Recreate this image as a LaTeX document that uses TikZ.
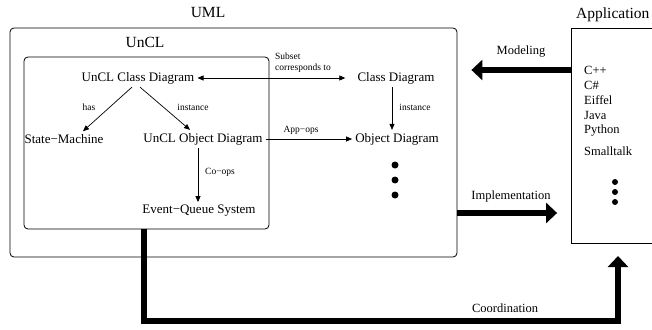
\documentclass[tikz,border=0pt]{standalone}
\usepackage{fontspec}
\setmainfont{Liberation Serif}
\usetikzlibrary{arrows.meta}
\begin{document}
\begin{tikzpicture}[x=1pt,y=-1pt,
  main/.style={font=\fontsize{13}{15}\selectfont, inner sep=3pt},
  lbl/.style={font=\fontsize{9.5}{11}\selectfont, inner sep=0pt},
  big/.style={font=\fontsize{15.5}{18}\selectfont, inner sep=0pt},
  side/.style={font=\fontsize{12.5}{15}\selectfont, inner sep=0pt},
  frame/.style={draw, line width=0.8pt, rounded corners=4pt, inner sep=0pt},
  thinarrow/.style={line width=0.7pt, -{Triangle[length=6pt,width=5pt]}},
  thinboth/.style={line width=0.7pt, {Triangle[length=6pt,width=5pt]}-{Triangle[length=6pt,width=5pt]}},
  fat/.style={line width=6pt, -{Triangle[length=11pt,width=20pt]}},
  dot/.style={circle, fill, inner sep=0pt, minimum size=7pt},
  sdot/.style={circle, fill, inner sep=0pt, minimum size=6pt}]
\useasboundingbox (0,0) rectangle (652,329);

% frames
\node[frame, minimum width=447pt, minimum height=229pt] (uml) at (233.5,142.5) {};
\node[frame, minimum width=245pt, minimum height=172pt] (uncl) at (146.5,143) {};
\node[draw, line width=0.8pt, minimum width=100pt, minimum height=215pt, inner sep=0pt] (app) at (621.5,135.5) {};

% frame titles
\node[big] (umlt) at (208,13) {UML};
\node[big] (unclt) at (145,42) {UnCL};
\node[big, anchor=west] (appt) at (576,15) {Application};

% diagram nodes
\node[main] (ucd) at (138,78) {UnCL Class Diagram};
\node[main] (cd) at (396,78) {Class Diagram};
\node[main] (sm) at (64,139) {State−Machine};
\node[main] (uod) at (203,139) {UnCL Object Diagram};
\node[main] (od) at (397,139) {Object Diagram};
\node[main] (eq) at (199,211) {Event−Queue System};

% ellipsis under Object Diagram
\node[dot] (d1) at (395,165) {};
\node[dot] (d2) at (395,180) {};
\node[dot] (d3) at (395,195) {};

% languages
\node[side, anchor=west] (l1) at (584,70) {C++};
\node[side, anchor=west] (l2) at (584,85) {C\#};
\node[side, anchor=west] (l3) at (584,100) {Eiffel};
\node[side, anchor=west] (l4) at (584,115) {Java};
\node[side, anchor=west] (l5) at (584,131) {Python};
\node[side, anchor=west] (l6) at (584,151) {Smalltalk};
\node[sdot] (a1) at (615,182) {};
\node[sdot] (a2) at (615,192) {};
\node[sdot] (a3) at (615,202) {};

% thin connectors
\draw[thinboth, shorten >=9pt] (ucd.east) -- (cd.west);
\node[lbl, anchor=south west, align=left] (subl) at (275,73) {Subset\\corresponds to};
\draw[thinarrow] ([xshift=-6pt]ucd.south) -- ([xshift=19pt]sm.north);
\node[lbl] (hasl) at (89,107) {has};
\draw[thinarrow] ([xshift=2pt]ucd.south) -- ([xshift=-13pt]uod.north);
\node[lbl] (inl1) at (193,107) {instance};
\draw[thinarrow] ([xshift=-4pt]cd.south) -- ([xshift=-5pt]od.north);
\node[lbl] (inl2) at (415,107) {instance};
\draw[thinarrow] (uod.east) -- (od.west);
\node[lbl] (appl) at (301,130) {App−ops};
\draw[thinarrow] ([xshift=-5pt]uod.south) -- ([xshift=-1pt]eq.north);
\node[lbl] (col) at (220,172) {Co−ops};

% thick connectors
\coordinate (mod) at (572,70);
\draw[fat, shorten >=14pt] (mod) -- (mod -| uml.east);
\node[side] (modl) at (521,52) {Modeling};
\coordinate (imp) at (457,213);
\draw[fat, shorten >=14pt] (imp) -- (imp -| app.west);
\node[side] (impl) at (511,196) {Implementation};
\coordinate (cstart) at (143.5,229);
\coordinate (cend) at (618,256);
\draw[fat, line join=miter] (cstart) -- (143.5,321) -- (618,321) -- (cend) ;
\node[side] (coordl) at (505,308) {Coordination};
\end{tikzpicture}
\end{document}
